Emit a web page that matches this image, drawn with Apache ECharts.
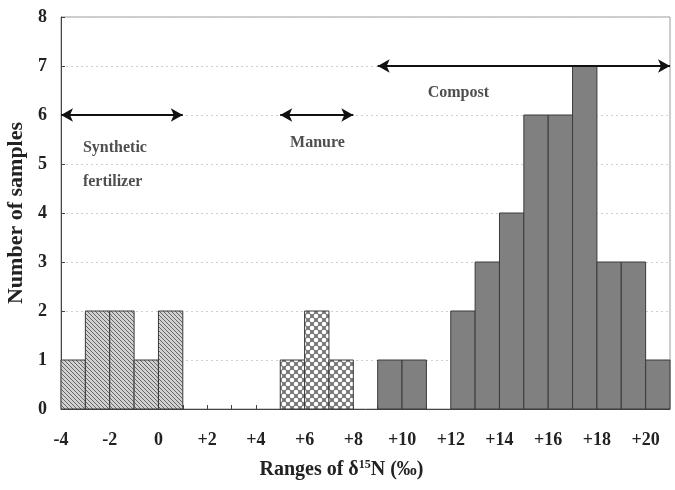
<!DOCTYPE html>
<html>
<head>
<meta charset="utf-8">
<script src="https://cdn.jsdelivr.net/npm/echarts@6/dist/echarts.min.js"></script>
<style>html,body{margin:0;padding:0;background:#fff}#c{width:675px;height:490px}</style>
</head>
<body>
<div id="c"></div>
<script>
// ---- data ----
const syntheticBins = [-4, -3, -2, -1, 0];
const syntheticCounts = [1, 2, 2, 1, 2];
const manureBins = [5, 6, 7];
const manureCounts = [1, 2, 1];
const compostBins = [9, 10, 11, 12, 13, 14, 15, 16, 17, 18, 19, 20];
const compostCounts = [1, 1, 0, 2, 3, 4, 6, 6, 7, 3, 3, 1];
const binWidth = 1;
const xMin = -4, xMax = 21;
const yTicks = [0, 1, 2, 3, 4, 5, 6, 7, 8];
const arrowRanges = [
  { name: 'Synthetic fertilizer', from: -4, to: 1, y: 6 },
  { name: 'Manure', from: 5, to: 8, y: 6 },
  { name: 'Compost', from: 9, to: 21, y: 7 }
];
const annotations = [
  { text: 'Synthetic', x: -3.1, y: 5.33, align: 'left' },
  { text: 'fertilizer', x: -3.1, y: 4.63, align: 'left' },
  { text: 'Manure', x: 6.53, y: 5.43, align: 'center' },
  { text: 'Compost', x: 12.31, y: 6.45, align: 'center' }
];

// ---- patterns ----
function hatchPattern() {
  const c = document.createElement('canvas');
  c.width = 4; c.height = 4;
  const g = c.getContext('2d');
  g.fillStyle = '#d0d0d0'; g.fillRect(0, 0, 4, 4);
  g.strokeStyle = '#666'; g.lineWidth = 1;
  g.beginPath();
  g.moveTo(-1, -1); g.lineTo(5, 5);
  g.moveTo(-1, 3); g.lineTo(1, 5);
  g.moveTo(3, -1); g.lineTo(5, 1);
  g.stroke();
  return c;
}
function crossPattern() {
  const c = document.createElement('canvas');
  c.width = 8; c.height = 8;
  const g = c.getContext('2d');
  g.fillStyle = '#767676'; g.fillRect(0, 0, 8, 8);
  g.fillStyle = '#ffffff';
  const pts = [[0, 0], [8, 0], [0, 8], [8, 8], [4, 4]];
  pts.forEach(p => { g.beginPath(); g.arc(p[0], p[1], 2.3, 0, Math.PI * 2); g.fill(); });
  return c;
}

function binData(bins, counts) { return bins.map((b, i) => [b, counts[i]]); }

function renderBin(fill) {
  return function (params, api) {
    const x0 = api.value(0), v = api.value(1);
    if (!v) return null;
    const p1 = api.coord([x0, v]);
    const p2 = api.coord([x0 + binWidth, 0]);
    return {
      type: 'rect',
      shape: { x: p1[0], y: p1[1], width: p2[0] - p1[0], height: p2[1] - p1[1] },
      style: { fill: fill, stroke: '#3a3a3a', lineWidth: 1 }
    };
  };
}

const serif = '"Liberation Serif", "Times New Roman", serif';
const chart = echarts.init(document.getElementById('c'), null, { renderer: 'canvas' });

const arrowLines = arrowRanges.map(a => [{ coord: [a.from, a.y] }, { coord: [a.to, a.y] }]);

chart.setOption({
  animation: false,
  backgroundColor: '#fff',
  grid: { left: 61, right: 5, top: 17, bottom: 81, show: true, borderColor: '#9a9a9a', borderWidth: 1,
          containLabel: false, outerBoundsMode: 'none' },
  xAxis: {
    type: 'value', min: xMin, max: xMax, interval: 1,
    name: '{t|Ranges of δ}{s|15}{t|N (‰)}',
    nameLocation: 'middle', nameGap: 50,
    nameTextStyle: {
      padding: [0, 48, 0, 0],
      rich: {
        t: { fontFamily: serif, fontWeight: 'bold', fontSize: 20, color: '#222' },
        s: { fontFamily: serif, fontWeight: 'bold', fontSize: 12, color: '#222', verticalAlign: 'top', padding: [0, 0, 9, 0] }
      }
    },
    axisLine: { show: true, onZero: false, lineStyle: { color: '#444', width: 1 } },
    axisTick: { show: true, inside: true, length: 4, lineStyle: { color: '#444' } },
    axisLabel: {
      fontFamily: serif, fontWeight: 'bold', fontSize: 18, color: '#222', margin: 22,
      showMaxLabel: false,
      formatter: v => (Math.round(v) % 2 !== 0 ? '' : (v > 0 ? '+' + v : String(v)))
    },
    splitLine: { show: false }
  },
  yAxis: {
    type: 'value', min: yTicks[0], max: yTicks[yTicks.length - 1], interval: 1,
    name: 'Number of samples', nameLocation: 'middle', nameGap: 32,
    nameTextStyle: { fontFamily: serif, fontWeight: 'bold', fontSize: 22, color: '#222' },
    axisLine: { show: true, onZero: false, lineStyle: { color: '#444', width: 1 } },
    axisTick: { show: true, inside: true, length: 4, lineStyle: { color: '#444' } },
    axisLabel: { fontFamily: serif, fontWeight: 'bold', fontSize: 18, color: '#222', margin: 14 },
    splitLine: { show: true, lineStyle: { color: '#cfcfcf', type: [2, 3], width: 1 } }
  },
  series: [
    {
      name: 'Synthetic fertilizer', type: 'custom', renderItem: renderBin({ image: hatchPattern(), repeat: 'repeat' }),
      data: binData(syntheticBins, syntheticCounts), silent: true
    },
    {
      name: 'Manure', type: 'custom', renderItem: renderBin({ image: crossPattern(), repeat: 'repeat' }),
      data: binData(manureBins, manureCounts), silent: true
    },
    {
      name: 'Compost', type: 'custom', renderItem: renderBin('#808080'),
      data: binData(compostBins, compostCounts), silent: true,
      markLine: {
        silent: true, animation: false,
        symbol: ['arrow', 'arrow'], symbolSize: [10, 12],
        lineStyle: { color: '#111', width: 2, type: 'solid' },
        label: { show: false },
        data: arrowLines
      }
    },
    {
      type: 'scatter', symbolSize: 0, silent: true,
      data: annotations.map(a => ({
        value: [a.x, a.y], name: a.text,
        label: a.align === 'left' ? { position: 'right', distance: 0 } : { position: 'inside' }
      })),
      label: {
        show: true,
        fontFamily: serif, fontWeight: 'bold', fontSize: 16, color: '#222',
        formatter: p => p.name
      }
    }
  ]
});
</script>
</body>
</html>
